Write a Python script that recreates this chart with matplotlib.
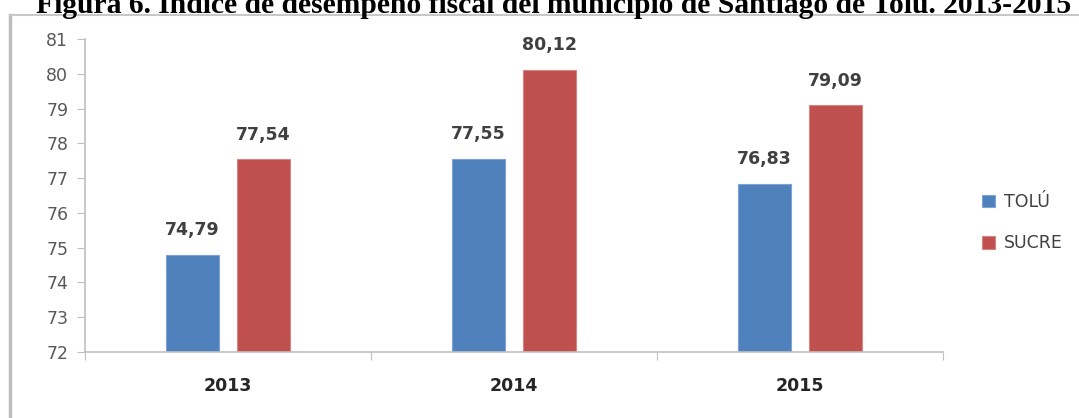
import matplotlib
matplotlib.use("Agg")
import matplotlib.pyplot as plt
from matplotlib.lines import Line2D
import numpy as np

years = ["2013", "2014", "2015"]
series_names = ["TOLÚ", "SUCRE"]
tolu = [74.79, 77.55, 76.83]
sucre = [77.54, 80.12, 79.09]
value_labels_tolu = ["74,79", "77,55", "76,83"]
value_labels_sucre = ["77,54", "80,12", "79,09"]
yticks = [72, 73, 74, 75, 76, 77, 78, 79, 80, 81]
title = "Figura 6. Índice de desempeño fiscal del municipio de Santiago de Tolú. 2013-2015"

W, H = 1079, 418
fig = plt.figure(figsize=(W / 100, H / 100), dpi=100)
ax = fig.add_axes([85 / W, 66 / H, (943 - 85) / W, (352 - 39) / H])

blue = "#4F81BD"
red = "#C0504D"
x = np.arange(len(years))
bw = 0.185
off = 0.124
ax.bar(x - off, [v - 72 for v in tolu], bw, bottom=72, color=blue, edgecolor="#7FA3D6", linewidth=0.8, label=series_names[0])
ax.bar(x + off, [v - 72 for v in sucre], bw, bottom=72, color=red, edgecolor="#D68481", linewidth=0.8, label=series_names[1])

for xi, v, s in zip(x, tolu, value_labels_tolu):
    ax.text(xi - off, v + 0.45, s, ha="center", va="bottom", fontsize=12.5, fontweight="bold", color="#404040")
for xi, v, s in zip(x, sucre, value_labels_sucre):
    ax.text(xi + off, v + 0.45, s, ha="center", va="bottom", fontsize=12.5, fontweight="bold", color="#404040")

ax.set_ylim(72, 81)
ax.set_xlim(-0.5, 2.5)
ax.set_yticks(yticks)
ax.set_yticklabels([str(t) for t in yticks], fontsize=12.5, color="#595959")
ax.set_xticks([-0.5, 0.5, 1.5, 2.5])
ax.set_xticklabels([])
ax.set_xticks(x, minor=True)
ax.set_xticklabels(years, minor=True, fontsize=12.5, fontweight="bold", color="#262626")
ax.tick_params(axis="x", which="minor", length=0, pad=18)
ax.tick_params(axis="x", which="major", length=6, color="#BFBFBF", direction="out")
ax.tick_params(axis="y", length=6, color="#BFBFBF", direction="out", pad=6)
for sp in ["top", "right"]:
    ax.spines[sp].set_visible(False)
for sp in ["left", "bottom"]:
    ax.spines[sp].set_color("#BFBFBF")
    ax.spines[sp].set_linewidth(1.2)

ax.legend(loc="upper left", bbox_to_anchor=(975 / W, 1 - 186 / H), bbox_transform=fig.transFigure,
          frameon=False, handlelength=0.75, handleheight=0.75, handletextpad=0.5,
          labelspacing=1.35, prop={"size": 12.5}, labelcolor="#404040", borderaxespad=0)

# outer border
fig.add_artist(Line2D([10 / W, 10 / W], [0, 1 - 15 / H], transform=fig.transFigure, color="#BDBDBD", linewidth=2.5))
fig.add_artist(Line2D([10 / W, 1], [1 - 15 / H, 1 - 15 / H], transform=fig.transFigure, color="#C8C8C8", linewidth=1.5))

fig.text(554 / W, 1 - 13 / H, title, ha="center", va="baseline", fontsize=21.3,
         fontweight="bold", family="Liberation Serif", color="black")

fig.savefig("out.png", dpi=100)
